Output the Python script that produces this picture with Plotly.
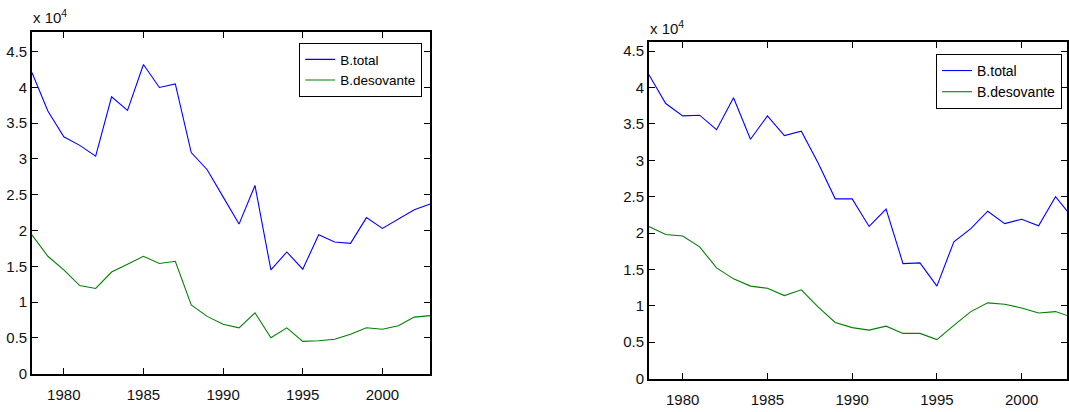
import plotly.graph_objects as go

years = list(range(1978, 2004))
left_total = [4.21, 3.67, 3.31, 3.19, 3.04, 3.87, 3.68, 4.32, 4.00, 4.05, 3.09, 2.85, 2.47, 2.09, 2.63,
              1.45, 1.70, 1.46, 1.94, 1.84, 1.82, 2.18, 2.03, 2.16, 2.29, 2.37]
left_spawn = [1.94, 1.64, 1.45, 1.23, 1.19, 1.42, 1.53, 1.64, 1.54, 1.57, 0.96, 0.80, 0.69, 0.64, 0.85,
              0.50, 0.64, 0.45, 0.46, 0.48, 0.55, 0.64, 0.62, 0.67, 0.79, 0.81]
right_total = [4.18, 3.78, 3.61, 3.62, 3.42, 3.86, 3.29, 3.61, 3.34, 3.40, 2.96, 2.47, 2.47, 2.09, 2.33,
               1.58, 1.59, 1.27, 1.88, 2.06, 2.30, 2.13, 2.19, 2.10, 2.50, 2.21]
right_spawn = [2.09, 1.98, 1.96, 1.81, 1.52, 1.37, 1.27, 1.24, 1.14, 1.22, 0.98, 0.77, 0.70, 0.665, 0.72,
               0.62, 0.62, 0.535, 0.73, 0.92, 1.04, 1.02, 0.97, 0.90, 0.92, 0.84]

x_ticks = [1980, 1985, 1990, 1995, 2000]
y_ticks = [0, 0.5, 1, 1.5, 2, 2.5, 3, 3.5, 4, 4.5]
y_ticklabels = ["0", "0.5", "1", "1.5", "2", "2.5", "3", "3.5", "4", "4.5"]
series_names = ["B.total", "B.desovante"]
scale_label = "x 10<sup>4</sup>"

BLUE = "#0000ff"
GREEN = "#008000"
TICKFONT = "Liberation Sans Narrow, Arial Narrow, Liberation Sans, Arial, sans-serif"
FONT = "Liberation Sans, Arial, sans-serif"
W, H = 1069, 412

fig = go.Figure()
fig.add_trace(go.Scatter(x=years, y=left_total, mode="lines", name=series_names[0],
                         line=dict(color=BLUE, width=1.1), xaxis="x", yaxis="y", legend="legend"))
fig.add_trace(go.Scatter(x=years, y=left_spawn, mode="lines", name=series_names[1],
                         line=dict(color=GREEN, width=1.1), xaxis="x", yaxis="y", legend="legend"))
fig.add_trace(go.Scatter(x=years, y=right_total, mode="lines", name=series_names[0],
                         line=dict(color=BLUE, width=1.1), xaxis="x2", yaxis="y2", legend="legend2"))
fig.add_trace(go.Scatter(x=years, y=right_spawn, mode="lines", name=series_names[1],
                         line=dict(color=GREEN, width=1.1), xaxis="x2", yaxis="y2", legend="legend2"))

axis_common = dict(showgrid=False, zeroline=False, showline=True, linecolor="#000000", linewidth=1.5,
                   mirror="ticks", ticks="inside", ticklen=6, tickcolor="#000000", tickwidth=1,
                   tickfont=dict(family=TICKFONT, size=15, color="#111111"))

def xaxis(domain, rng, anchor):
    return dict(domain=domain, range=rng, anchor=anchor, tickvals=x_ticks,
                ticktext=[str(v) for v in x_ticks], ticklabelstandoff=7, **axis_common)

def yaxis(domain, rng, anchor):
    return dict(domain=domain, range=rng, anchor=anchor, tickvals=y_ticks,
                ticktext=y_ticklabels, **axis_common)

fig.update_layout(
    width=W, height=H, margin=dict(l=0, r=0, t=0, b=0),
    paper_bgcolor="white", plot_bgcolor="white",
    xaxis=xaxis([32 / W, 431 / W], [1978, 2003], "y"),
    yaxis=yaxis([1 - 381 / H, 1 - 33 / H], [0, 4.77], "x"),
    xaxis2=xaxis([650 / W, 1.0], [1978, 1978 + 419 / 16.98], "y2"),
    yaxis2=yaxis([1 - 386 / H, 1 - 43.3 / H], [0, 4.62], "x2"),
    legend=dict(x=423 / W, xanchor="right", y=1 - 44 / H, yanchor="top",
                bgcolor="white", bordercolor="#000000", borderwidth=1,
                font=dict(family=FONT, size=13.5, color="#000000"), tracegroupgap=0),
    legend2=dict(x=1064 / W, xanchor="right", y=1 - 55 / H, yanchor="top",
                 bgcolor="white", bordercolor="#000000", borderwidth=1,
                 font=dict(family=FONT, size=14, color="#000000"), tracegroupgap=0),
    showlegend=True,
    annotations=[
        dict(text=scale_label, xref="paper", yref="paper", x=31 / W, y=1 - 17 / H,
             xanchor="left", yanchor="middle", showarrow=False,
             font=dict(family=TICKFONT, size=15, color="#111111")),
        dict(text=scale_label, xref="paper", yref="paper", x=649 / W, y=1 - 28 / H,
             xanchor="left", yanchor="middle", showarrow=False,
             font=dict(family=TICKFONT, size=15, color="#111111")),
    ],
)

fig.write_html("out.html")
